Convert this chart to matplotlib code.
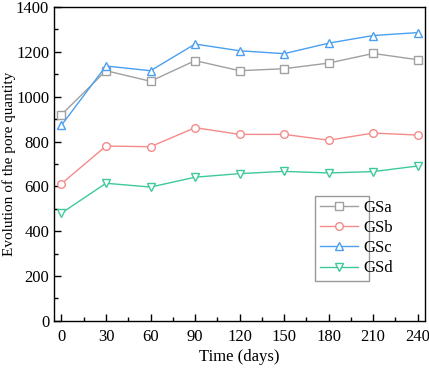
import numpy as np
import matplotlib.pyplot as plt
from matplotlib.ticker import MultipleLocator

plt.rcParams['font.family'] = ['Liberation Serif', 'DejaVu Serif']

days = [0, 30, 60, 90, 120, 150, 180, 210, 240]
gsa = [920, 1116, 1069, 1161, 1116, 1125, 1150, 1193, 1165]
gsb = [612, 780, 777, 862, 832, 832, 806, 838, 829]
gsc = [873, 1137, 1116, 1235, 1205, 1192, 1239, 1273, 1286]
gsd = [481, 614, 597, 641, 657, 667, 660, 666, 691]

fig = plt.figure(figsize=(4.29, 3.71), dpi=100)
ax = fig.add_axes([0.126, 0.135, 0.865, 0.846])

series = [
    ('GSa', gsa, '#a0a0a0', 's'),
    ('GSb', gsb, '#f58a8a', 'o'),
    ('GSc', gsc, '#4a9ff0', '^'),
    ('GSd', gsd, '#3ec99a', 'v'),
]
for name, vals, col, mk in series:
    ax.plot(days, vals, color=col, marker=mk, markersize=5.5, markerfacecolor='white',
            markeredgecolor=col, linewidth=1, label=name)

ax.set_xlim(-5, 245)
ax.set_ylim(0, 1400)
ax.set_xticks(days)
ax.xaxis.set_minor_locator(MultipleLocator(15))
ax.yaxis.set_major_locator(MultipleLocator(200))
ax.yaxis.set_minor_locator(MultipleLocator(100))
ax.tick_params(which='both', direction='in', top=False, right=False, labelsize=12)
ax.tick_params(axis='x', which='major', pad=5.5)
ax.tick_params(axis='y', which='major', pad=3.5)
ax.tick_params(which='major', length=5, width=1)
ax.tick_params(which='minor', length=3, width=1)
for s in ax.spines.values():
    s.set_linewidth(1)
ax.set_xlabel('Time (days)', fontsize=12, labelpad=3)
ax.set_ylabel('Evolution of the pore quantity', fontsize=11)
ax.yaxis.set_label_coords(-0.102, 0.5)

leg = ax.legend(loc='lower left', bbox_to_anchor=(0.682, 0.102, 0.19, 0.271), mode='expand',
                fontsize=12, fancybox=False, edgecolor='#808080', handlelength=2.3,
                borderpad=0.25, labelspacing=0.25, handletextpad=0.3)
leg.get_frame().set_linewidth(1)

fig.savefig('out.png', dpi=100)
